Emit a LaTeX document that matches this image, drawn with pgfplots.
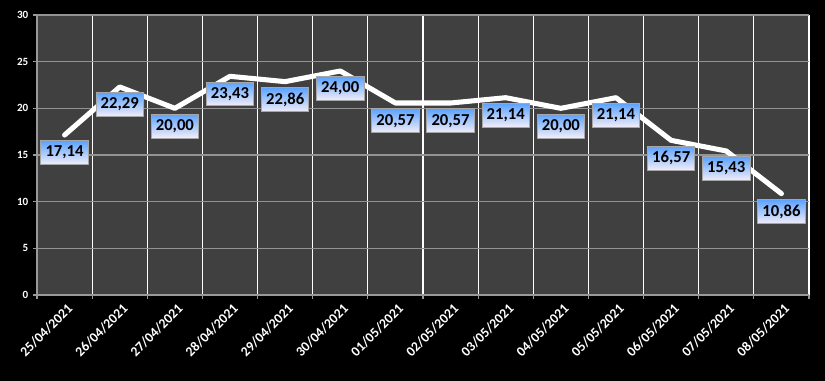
\documentclass[border=0pt]{standalone}
\usepackage{pgfplots}
\pgfplotsset{compat=1.18}
\usepackage{fontspec}
\setmainfont{Carlito}
\definecolor{plotbg}{HTML}{404040}
\definecolor{boxtop}{HTML}{5AA2FF}
\definecolor{boxbot}{HTML}{F4EEF8}
\begin{document}
\begin{tikzpicture}[x=1pt,y=1pt]
\fill[black] (-27.75,-64.5) rectangle (591,221.25);
\begin{axis}[
  at={(0,0)}, anchor=south west,
  scale only axis, width=579pt, height=210pt,
  xmin=-0.5, xmax=13.5, ymin=0, ymax=30,
  axis background/.style={fill=plotbg},
  axis x line*=bottom, axis y line*=left,
  axis line style={draw=gray!80, line width=0.8pt},
  xtick={0,...,13},
  xticklabels={25/04/2021,26/04/2021,27/04/2021,28/04/2021,29/04/2021,30/04/2021,01/05/2021,02/05/2021,03/05/2021,04/05/2021,05/05/2021,06/05/2021,07/05/2021,08/05/2021},
  minor xtick={-0.5,0.5,...,13.5},
  ytick={0,5,...,30},
  xmajorgrids=false, ymajorgrids=true, xminorgrids=true,
  major grid style={draw=gray!85, line width=0.8pt},
  minor grid style={draw=white, line width=0.8pt},
  tick align=outside,
  major tick length=3pt,
  minor tick length=3pt,
  xtick style={draw=none},
  minor x tick style={draw=gray!80, line width=0.8pt},
  ytick style={draw=gray!80, line width=0.8pt},
  /pgf/number format/assume math mode=true,
  tick label style={font=\bfseries, text=white},
  yticklabel style={font=\bfseries\fontsize{8.3}{9}\selectfont, text=white},
  xticklabel style={font=\bfseries\fontsize{10.3}{11}\selectfont, text=white, rotate=45, anchor=north east, inner sep=1pt, yshift=-2pt},
  clip=false,
  nodes near coords={\pgfmathprintnumber[fixed,fixed zerofill,precision=2,use comma]{\pgfplotspointmeta}},
  every node near coord/.append style={
    font=\bfseries\fontsize{12.5}{13}\selectfont, text=black,
    anchor=north, yshift=-4pt,
    top color=boxtop, bottom color=boxbot, draw=gray!70, line width=0.6pt,
    inner xsep=3.5pt, inner ysep=4pt},
]
\addplot[white, line width=3.8pt, line cap=round, line join=round, mark=none] coordinates {
  (0,17.14) (1,22.29) (2,20.00) (3,23.43) (4,22.86) (5,24.00) (6,20.57)
  (7,20.57) (8,21.14) (9,20.00) (10,21.14) (11,16.57) (12,15.43) (13,10.86)
};
\end{axis}
\end{tikzpicture}
\end{document}
